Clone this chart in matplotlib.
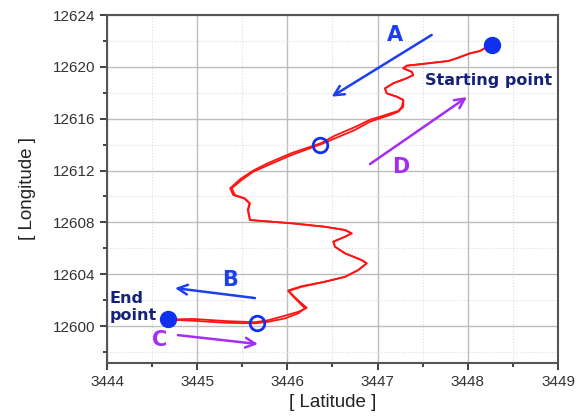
"""GPS track of the survey loop: out from the starting point (A, B) and back (C, D)."""
import matplotlib.pyplot as plt
from matplotlib.ticker import MultipleLocator

plt.rcParams["font.family"] = ["Liberation Sans", "DejaVu Sans"]

# outbound trace, starting point -> end point
lat_out = [3448.246, 3448.135, 3448.024, 3447.877, 3447.784, 3447.655, 3447.470, 3447.323,
           3447.285, 3447.378, 3447.396, 3447.323, 3447.174, 3447.082, 3447.101, 3447.212,
           3447.285, 3447.285, 3447.230, 3447.137, 3447.027, 3446.916, 3446.749, 3446.528,
           3446.369, 3446.048, 3445.788, 3445.622, 3445.493, 3445.382, 3445.419, 3445.530,
           3445.585, 3445.567, 3445.585, 3446.048, 3446.417, 3446.639, 3446.713, 3446.639,
           3446.509, 3446.528, 3446.639, 3446.824, 3446.879, 3446.786, 3446.639, 3446.417,
           3446.159, 3446.010, 3446.084, 3446.195, 3446.121, 3445.973, 3445.788, 3445.641,
           3445.327, 3444.957, 3444.662]
lon_out = [12621.68, 12621.22, 12621.04, 12620.66, 12620.45, 12620.35, 12620.20, 12620.09,
           12619.89, 12619.62, 12619.37, 12619.12, 12618.73, 12618.34, 12617.96, 12617.70,
           12617.44, 12616.92, 12616.54, 12616.28, 12616.03, 12615.77, 12615.13, 12614.48,
           12614.02, 12613.20, 12612.42, 12611.91, 12611.27, 12610.63, 12610.11, 12609.85,
           12609.47, 12608.95, 12608.18, 12607.93, 12607.66, 12607.41, 12607.15, 12606.89,
           12606.51, 12606.12, 12605.61, 12605.09, 12604.84, 12604.32, 12603.80, 12603.42,
           12603.03, 12602.70, 12602.14, 12601.37, 12600.98, 12600.59, 12600.33, 12600.21,
           12600.25, 12600.41, 12600.50]

# return trace, end point -> starting point
lat_ret = [3444.662, 3444.957, 3445.327, 3445.641, 3445.788, 3445.973, 3446.121, 3446.215,
           3446.095, 3446.010, 3446.159, 3446.417, 3446.639, 3446.786, 3446.879, 3446.824,
           3446.639, 3446.528, 3446.509, 3446.639, 3446.713, 3446.639, 3446.417, 3446.048,
           3445.585, 3445.560, 3445.580, 3445.520, 3445.400, 3445.365, 3445.480, 3445.622,
           3445.788, 3446.048, 3446.369, 3446.528, 3446.749, 3446.916, 3447.027, 3447.137,
           3447.230, 3447.270, 3447.285, 3447.212, 3447.101, 3447.082, 3447.174, 3447.323,
           3447.396, 3447.378, 3447.285, 3447.323, 3447.470, 3447.655, 3447.784, 3447.877,
           3448.024, 3448.135, 3448.246]
lon_ret = [12600.50, 12600.55, 12600.38, 12600.30, 12600.45, 12600.80, 12601.10, 12601.40,
           12602.14, 12602.75, 12603.08, 12603.42, 12603.80, 12604.32, 12604.84, 12605.09,
           12605.61, 12606.12, 12606.51, 12606.89, 12607.15, 12607.41, 12607.66, 12607.93,
           12608.18, 12608.95, 12609.47, 12609.85, 12610.11, 12610.63, 12611.35, 12612.00,
           12612.58, 12613.35, 12614.10, 12614.70, 12615.35, 12615.92, 12616.15, 12616.40,
           12616.60, 12616.92, 12617.44, 12617.70, 12617.96, 12618.34, 12618.73, 12619.12,
           12619.37, 12619.62, 12619.89, 12620.09, 12620.20, 12620.35, 12620.45, 12620.66,
           12621.04, 12621.22, 12621.68]

# filled = start / end, open = turning points
start_pt = (3448.265, 12621.68)
end_pt = (3444.672, 12600.55)
turn_lat = [3446.361, 3445.663]
turn_lon = [12613.97, 12600.21]

# direction arrows: label, tail, head, label position, colour
arrow_names = ["A", "B", "C", "D"]
arrow_tail = [(3447.600, 12622.46), (3445.641, 12602.16), (3444.787, 12599.30), (3446.916, 12612.50)]
arrow_head = [(3446.491, 12617.70), (3444.754, 12602.93), (3445.674, 12598.61), (3447.991, 12617.67)]
arrow_label = [(3447.193, 12622.46), (3445.364, 12603.55), (3444.588, 12598.92), (3447.259, 12612.27)]
arrow_col = ["#1c3ff0", "#1c3ff0", "#a52cf2", "#a52cf2"]

RED = "#ff1414"
BLUE = "#1030f0"
NAVY = "#15217a"

fig = plt.figure(figsize=(5.77, 4.18), dpi=100)
ax = fig.add_axes([0.1854, 0.1316, 0.7816, 0.8325])

ax.plot(lat_out, lon_out, color=RED, lw=1.3, zorder=3)
ax.plot(lat_ret, lon_ret, color=RED, lw=1.3, zorder=3)

ax.plot(*start_pt, "o", ms=11.5, color=BLUE, zorder=5)
ax.plot(*end_pt, "o", ms=11.5, color=BLUE, zorder=5)
ax.plot(turn_lat, turn_lon, "o", ms=10.5, mfc="none", mec=BLUE, mew=2, ls="none", zorder=5)

for name, tail, head, lab, col in zip(arrow_names, arrow_tail, arrow_head, arrow_label, arrow_col):
    ax.annotate("", xy=head, xytext=tail,
                arrowprops=dict(arrowstyle="->,head_length=0.7,head_width=0.35",
                                color=col, lw=1.8, shrinkA=0, shrinkB=0), zorder=4)
    ax.text(lab[0], lab[1], name, color=col, fontsize=15, fontweight="bold",
            ha="center", va="center", family=["DejaVu Sans"])

ax.text(3448.235, 12618.98, "Starting point", color=NAVY, fontsize=11.5,
        fontweight="bold", ha="center", va="center", family=["DejaVu Sans"])
ax.text(3444.03, 12601.45, "End\npoint", color=NAVY, fontsize=11.5,
        fontweight="bold", ha="left", va="center", linespacing=1.2, family=["DejaVu Sans"])

ax.set_xlim(3444, 3449)
ax.set_ylim(12597.15, 12624)
ax.xaxis.set_major_locator(MultipleLocator(1))
ax.xaxis.set_minor_locator(MultipleLocator(0.5))
ax.yaxis.set_major_locator(MultipleLocator(4))
ax.yaxis.set_minor_locator(MultipleLocator(2))
ax.xaxis.get_major_formatter().set_useOffset(False)
ax.yaxis.get_major_formatter().set_useOffset(False)

ax.grid(which="major", color="#bdbdbd", lw=1.0)
ax.grid(which="minor", color="#dcdcdc", lw=0.8, ls=":")
ax.set_axisbelow(True)
for sp in ax.spines.values():
    sp.set_color("#555555")
    sp.set_linewidth(1.5)
ax.tick_params(which="both", direction="out", colors="#333333", labelsize=11,
               width=1.3, top=False, right=False)
ax.tick_params(which="major", length=5)
ax.tick_params(which="minor", length=3)

ax.set_xlabel("[ Latitude ]", fontsize=13.5, color="#222222", labelpad=4)
ax.set_ylabel("[ Longitude ]", fontsize=13.5, color="#222222", labelpad=12)

fig.savefig("out.png", dpi=100)
